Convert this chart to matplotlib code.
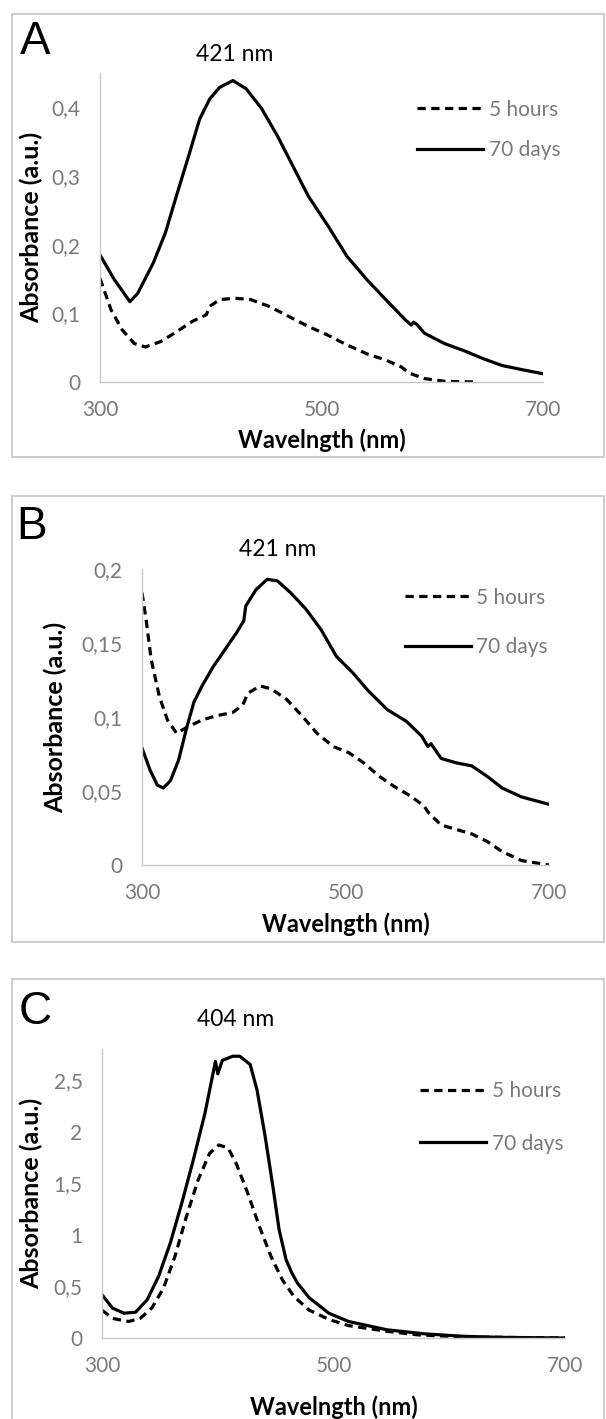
import numpy as np
import matplotlib
matplotlib.use("Agg")
from matplotlib import pyplot as plt
from matplotlib.patches import Rectangle

# Values (wavelength in nm, absorbance in a.u.)
# Panel A
wl_a_70d = [300, 313, 327, 334, 348, 359, 369, 380, 390, 399, 408, 420, 432, 446, 460,
            474, 488, 506, 523, 541, 558, 576, 581, 583, 586, 593, 611, 628, 646, 663, 681, 700]
abs_a_70d = [0.185, 0.149, 0.117, 0.129, 0.173, 0.217, 0.271, 0.329, 0.383, 0.412, 0.429,
             0.439, 0.427, 0.398, 0.359, 0.315, 0.271, 0.227, 0.183, 0.149, 0.120, 0.090,
             0.083, 0.087, 0.084, 0.071, 0.056, 0.046, 0.034, 0.024, 0.018, 0.012]
wl_a_5h = [300, 310, 320, 331, 341, 355, 369, 383, 396, 399, 408, 422, 436, 453, 471, 488,
           506, 523, 541, 558, 572, 579, 593, 611, 641]
abs_a_5h = [0.151, 0.105, 0.076, 0.056, 0.051, 0.059, 0.073, 0.088, 0.098, 0.110, 0.120,
            0.122, 0.120, 0.110, 0.095, 0.081, 0.068, 0.054, 0.041, 0.032, 0.022, 0.013,
            0.005, 0.001, 0.0]

# Panel B
wl_b_70d = [300, 308, 315, 321, 328, 336, 344, 351, 359, 370, 382, 393, 400, 402, 412, 423,
            433, 446, 461, 476, 491, 507, 522, 541, 560, 575, 581, 584, 594, 609, 624, 639,
            654, 673, 700]
abs_b_70d = [0.079, 0.064, 0.054, 0.052, 0.057, 0.071, 0.093, 0.110, 0.121, 0.134, 0.146,
             0.157, 0.165, 0.175, 0.186, 0.193, 0.192, 0.184, 0.173, 0.159, 0.141, 0.130,
             0.118, 0.105, 0.097, 0.087, 0.080, 0.082, 0.072, 0.069, 0.067, 0.060, 0.052,
             0.046, 0.041]
wl_b_5h = [300, 304, 309, 317, 325, 334, 344, 359, 374, 389, 399, 404, 416, 427, 442, 457,
           472, 488, 503, 518, 533, 548, 563, 577, 582, 594, 609, 624, 639, 654, 673, 700]
abs_b_5h = [0.184, 0.166, 0.139, 0.114, 0.098, 0.089, 0.093, 0.098, 0.101, 0.103, 0.108,
            0.116, 0.121, 0.119, 0.112, 0.101, 0.089, 0.080, 0.076, 0.069, 0.060, 0.053,
            0.047, 0.040, 0.035, 0.027, 0.024, 0.021, 0.016, 0.009, 0.003, 0.0]

# Panel C
wl_c_70d = [300, 309, 319, 329, 339, 349, 359, 369, 379, 389, 398, 400, 404, 413, 419, 428,
            434, 441, 448, 453, 459, 464, 469, 479, 496, 513, 546, 579, 613, 646, 700]
abs_c_70d = [0.42, 0.29, 0.24, 0.25, 0.37, 0.60, 0.92, 1.31, 1.73, 2.18, 2.68, 2.56, 2.69,
             2.73, 2.73, 2.65, 2.40, 1.95, 1.44, 1.05, 0.76, 0.63, 0.53, 0.39, 0.24, 0.16,
             0.08, 0.04, 0.016, 0.006, 0.0]
wl_c_5h = [300, 309, 323, 333, 343, 353, 363, 373, 383, 393, 401, 409, 416, 426, 436, 446,
           456, 466, 479, 496, 513, 546, 573, 613, 700]
abs_c_5h = [0.27, 0.19, 0.16, 0.19, 0.29, 0.48, 0.79, 1.18, 1.53, 1.79, 1.87, 1.84, 1.69,
            1.40, 1.08, 0.79, 0.56, 0.40, 0.27, 0.18, 0.12, 0.065, 0.03, 0.01, 0.0]

x_ticks = [300, 500, 700]
y_ticks_a = [0, 0.1, 0.2, 0.3, 0.4]
y_labels_a = ["0", "0,1", "0,2", "0,3", "0,4"]
y_ticks_b = [0, 0.05, 0.1, 0.15, 0.2]
y_labels_b = ["0", "0,05", "0,1", "0,15", "0,2"]
y_ticks_c = [0, 0.5, 1, 1.5, 2, 2.5]
y_labels_c = ["0", "0,5", "1", "1,5", "2", "2,5"]

W, H = 606, 1419
GREY = "#7a7a7a"
plt.rcParams['font.family'] = ['Lato', 'DejaVu Sans']

fig = plt.figure(figsize=(W / 100, H / 100), dpi=100)


def add_panel(x0, x1, top, bottom, ftop, fbottom):
    # light grey frame around each panel, then the axes inside (pixel coords)
    fig.add_artist(Rectangle((12 / W, 1 - fbottom / H), (604 - 12) / W, (fbottom - ftop) / H,
                             transform=fig.transFigure, fill=False, ec="#c8c8c8", lw=1.3))
    return fig.add_axes([x0 / W, 1 - bottom / H, (x1 - x0) / W, (bottom - top) / H])


def style(ax, ylim, yt, yl, peak, peak_xy, leg_xy, spacing, label_y):
    ax.set_xlim(300, 700)
    ax.set_ylim(*ylim)
    ax.set_xticks(x_ticks)
    ax.set_yticks(yt)
    ax.set_yticklabels(yl)
    for s in ["top", "right"]:
        ax.spines[s].set_visible(False)
    for s in ["left", "bottom"]:
        ax.spines[s].set_color("#c8c8c8")
        ax.spines[s].set_linewidth(1.0)
    ax.tick_params(length=0, labelsize=15, labelcolor=GREY)
    ax.tick_params(axis="y", pad=14)
    ax.tick_params(axis="x", pad=13)
    ax.set_xlabel("Wavelngth (nm)", fontsize=17, fontweight="bold")
    ax.xaxis.set_label_coords(0.5, label_y)
    ax.set_ylabel("Absorbance (a.u.)", fontsize=18, fontweight="bold")
    ax.legend(loc="upper left", bbox_to_anchor=leg_xy, frameon=False, fontsize=15,
              handlelength=3.15, handletextpad=0.28, labelspacing=spacing,
              borderpad=0, borderaxespad=0, labelcolor=GREY)
    ax.text(peak_xy[0], peak_xy[1], peak, transform=ax.transAxes, fontsize=16.5,
            ha="center", va="bottom")


def draw(ax, wl5, a5, wl70, a70):
    ax.plot(wl5, a5, color="black", lw=2.3, ls=(0, (2.6, 1.7)), label="5 hours")
    ax.plot(wl70, a70, color="black", lw=2.3, label="70 days")


# A
ax_a = add_panel(100, 543, 73, 382, 14, 457)
draw(ax_a, wl_a_5h, abs_a_5h, wl_a_70d, abs_a_70d)
style(ax_a, (0, 0.45), y_ticks_a, y_labels_a, "421 nm", (0.305, 1.026), (0.716, 0.914), 0.98, -0.15)
ax_a.yaxis.set_label_coords(-(100 - 43) / 443, 0.5)
fig.text(35 / W, 1 - 42 / H, "A", fontsize=33, family="Liberation Sans", ha="center", va="center")

# B
ax_b = add_panel(142, 549, 569, 865, 496, 942)
draw(ax_b, wl_b_5h, abs_b_5h, wl_b_70d, abs_b_70d)
style(ax_b, (0, 0.2), y_ticks_b, y_labels_b, "421 nm", (0.334, 1.03), (0.646, 0.937), 1.4, -0.16)
ax_b.yaxis.set_label_coords(-(142 - 67) / 407, 0.5)
fig.text(32 / W, 1 - 527 / H, "B", fontsize=33, family="Liberation Sans", ha="center", va="center")

# C
ax_c = add_panel(102, 565, 1049, 1338, 979, 1430)
draw(ax_c, wl_c_5h, abs_c_5h, wl_c_70d, abs_c_70d)
style(ax_c, (0, 2.8), y_ticks_c, y_labels_c, "404 nm", (0.289, 1.066), (0.687, 0.888), 1.55, -0.2)
ax_c.yaxis.set_label_coords(-(102 - 43) / 463, 0.5)
fig.text(35 / W, 1 - 1012 / H, "C", fontsize=33, family="Liberation Sans", ha="center", va="center")

fig.savefig("out.png", dpi=100, facecolor="white")
